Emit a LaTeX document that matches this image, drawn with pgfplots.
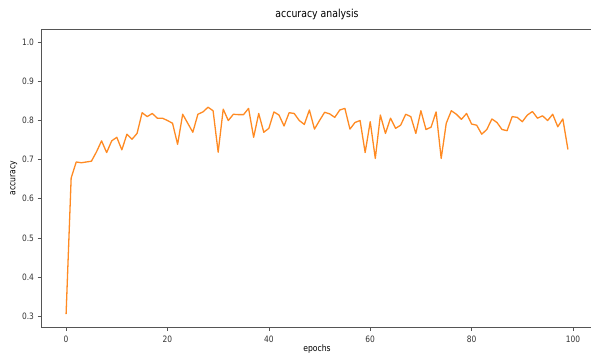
\documentclass[border=0pt]{standalone}
\usepackage{fontspec}
\setmainfont{DejaVu Sans}[FakeStretch=0.85]
\usepackage{pgfplots}
\pgfplotsset{compat=1.18}
\definecolor{mplorange}{HTML}{FF8A22}
\definecolor{spine}{HTML}{555555}
\begin{document}
\begin{tikzpicture}
\begin{axis}[
  scale only axis,
  width=552pt, height=298pt,
  xmin=-4.95, xmax=103.95,
  ymin=0.272, ymax=1.034,
  xtick={0,20,40,60,80,100},
  ytick={0.3,0.4,0.5,0.6,0.7,0.8,0.9,1.0},
  yticklabel style={/pgf/number format/fixed,/pgf/number format/fixed zerofill,/pgf/number format/precision=1},
  /pgf/number format/assume math mode=true,
  tick align=outside, tick pos=left,
  major tick length=3.5pt,
  every tick/.style={spine, line width=0.6pt},
  axis line style={spine, line width=0.8pt},
  ticklabel style={font=\fontsize{8.8}{9}\selectfont, text=black!80},
  xticklabel style={yshift=-1.5pt},
  title={accuracy analysis},
  title style={font=\fontsize{11}{12}\selectfont, yshift=0pt},
  xlabel={epochs}, ylabel={accuracy},
  label style={font=\fontsize{9}{10}\selectfont},
  xlabel style={yshift=4pt},
  ylabel style={yshift=-2pt},
]
\addplot[mplorange, line width=1.3pt, line join=round] coordinates {
(0,0.305) (1,0.653) (2,0.694) (3,0.692) (4,0.694) (5,0.696) (6,0.72) (7,0.748) (8,0.718) (9,0.748)
(10,0.757) (11,0.725) (12,0.765) (13,0.752) (14,0.767) (15,0.82) (16,0.81) (17,0.818) (18,0.806) (19,0.806)
(20,0.80) (21,0.793) (22,0.739) (23,0.816) (24,0.793) (25,0.77) (26,0.816) (27,0.822) (28,0.834) (29,0.825)
(30,0.719) (31,0.829) (32,0.80) (33,0.816) (34,0.815) (35,0.815) (36,0.831) (37,0.757) (38,0.818) (39,0.77)
(40,0.78) (41,0.822) (42,0.814) (43,0.786) (44,0.82) (45,0.818) (46,0.80) (47,0.79) (48,0.827) (49,0.778)
(50,0.80) (51,0.821) (52,0.817) (53,0.808) (54,0.827) (55,0.831) (56,0.778) (57,0.795) (58,0.80) (59,0.718)
(60,0.797) (61,0.703) (62,0.814) (63,0.767) (64,0.806) (65,0.78) (66,0.788) (67,0.816) (68,0.81) (69,0.767)
(70,0.825) (71,0.777) (72,0.783) (73,0.822) (74,0.703) (75,0.793) (76,0.825) (77,0.816) (78,0.803) (79,0.818)
(80,0.791) (81,0.788) (82,0.765) (83,0.777) (84,0.804) (85,0.795) (86,0.777) (87,0.774) (88,0.81) (89,0.808)
(90,0.797) (91,0.814) (92,0.823) (93,0.806) (94,0.812) (95,0.80) (96,0.816) (97,0.784) (98,0.804) (99,0.726)
};
\end{axis}
\pgfresetboundingbox
\path ([xshift=-41pt,yshift=-34pt]current axis.south west) rectangle ([xshift=-2pt,yshift=29pt]current axis.north east);
\end{tikzpicture}
\end{document}
